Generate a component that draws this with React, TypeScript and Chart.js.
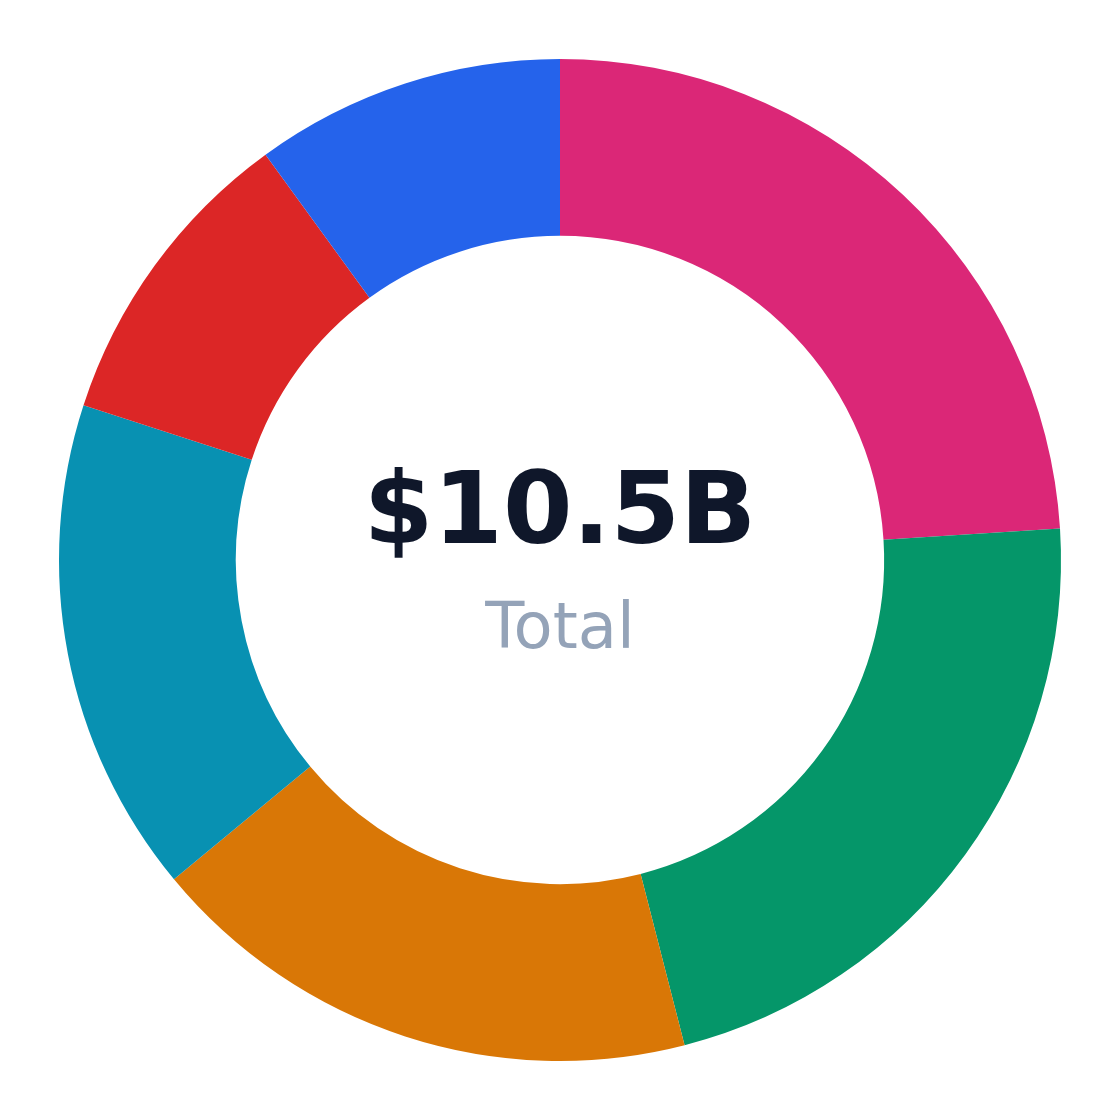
import { useEffect, useRef } from "react";
import { Chart, registerables } from "chart.js";

Chart.register(...registerables);

const segments = ["Segment A", "Segment B", "Segment C", "Segment D", "Segment E", "Segment F"];
const shares = [24, 22, 18, 16, 10, 10];
const colors = ["#db2777", "#059669", "#d97706", "#0891b2", "#dc2626", "#2563eb"];
const totalLabel = "$10.5B";
const subLabel = "Total";

const centerText = {
  id: "centerText",
  afterDraw(chart: any) {
    const { ctx } = chart;
    const meta = chart.getDatasetMeta(0);
    const arc = meta.data[0];
    if (!arc) return;
    const cx = arc.x;
    const cy = arc.y;
    ctx.save();
    ctx.textAlign = "center";
    ctx.textBaseline = "alphabetic";
    ctx.fillStyle = "#0f172a";
    ctx.font = "bold 100px 'DejaVu Sans'";
    ctx.fillText(totalLabel, cx, cy - 17);
    ctx.fillStyle = "#94a3b8";
    ctx.font = "64px 'DejaVu Sans'";
    ctx.fillText(subLabel, cx, cy + 88);
    ctx.restore();
  },
};

const DonutChart = () => {
  const chartRef = useRef<HTMLCanvasElement>(null);
  const chartInstance = useRef<Chart | null>(null);

  useEffect(() => {
    if (!chartRef.current) return;
    if (chartInstance.current) {
      chartInstance.current.destroy();
    }
    const ctx = chartRef.current.getContext("2d");
    if (!ctx) return;
    chartInstance.current = new Chart(ctx, {
      type: "doughnut",
      data: {
        labels: segments,
        datasets: [
          {
            data: shares,
            backgroundColor: colors,
            borderWidth: 0,
            hoverOffset: 0,
          },
        ],
      },
      options: {
        animation: false,
        responsive: true,
        maintainAspectRatio: false,
        cutout: "64.7%",
        layout: { padding: 51 },
        plugins: {
          legend: { display: false },
          tooltip: { enabled: false },
        },
      },
      plugins: [centerText],
    });

    return () => {
      if (chartInstance.current) {
        chartInstance.current.destroy();
        chartInstance.current = null;
      }
    };
  }, []);

  return (
    <div style={{ width: "1104px", height: "1104px", position: "relative" }}>
      <canvas ref={chartRef} />
    </div>
  );
};

export default function App() {
  return <DonutChart />;
}
